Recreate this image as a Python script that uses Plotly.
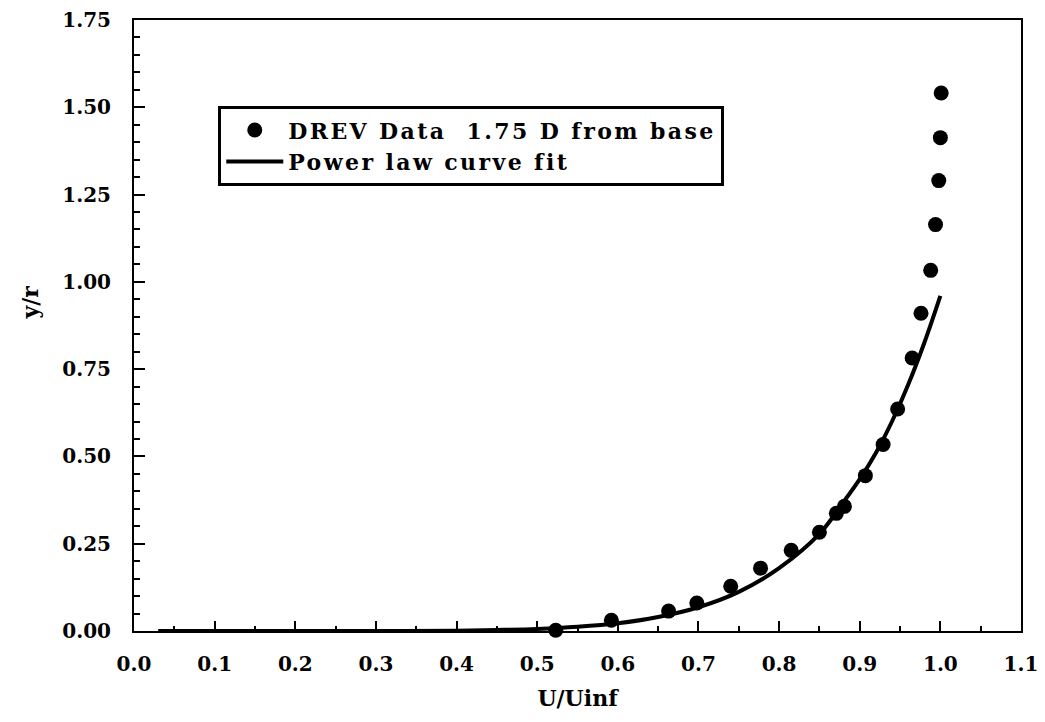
import plotly.graph_objects as go

# DREV data points
u_data = [0.523, 0.592, 0.663, 0.698, 0.740, 0.777, 0.815, 0.850, 0.871, 0.881,
          0.907, 0.929, 0.947, 0.965, 0.976, 0.988, 0.994, 0.998, 1.000, 1.001]
y_data = [0.002, 0.031, 0.057, 0.080, 0.128, 0.180, 0.231, 0.283, 0.337, 0.357,
          0.445, 0.534, 0.636, 0.782, 0.910, 1.033, 1.164, 1.290, 1.413, 1.541]

# Power law curve fit
u_fit = [0.03, 0.10, 0.20, 0.30, 0.40, 0.45, 0.50, 0.55, 0.60, 0.65, 0.70,
         0.75, 0.80, 0.85, 0.88, 0.90, 0.92, 0.94, 0.96, 0.98, 1.00]
y_fit = [0.000, 0.000, 0.000, 0.000, 0.001, 0.003, 0.006, 0.012, 0.022, 0.040, 0.068,
         0.112, 0.180, 0.278, 0.370, 0.435, 0.510, 0.600, 0.705, 0.825, 0.960]

x_ticks = [0.0, 0.1, 0.2, 0.3, 0.4, 0.5, 0.6, 0.7, 0.8, 0.9, 1.0, 1.1]
y_ticks = [0.0, 0.25, 0.5, 0.75, 1.0, 1.25, 1.5, 1.75]

FONT = "DejaVu Serif"
fnt = dict(family=FONT, size=20, color="black", weight="bold")
big = dict(family=FONT, size=22, color="black", weight="bold")
leg = dict(family=FONT, size=22, color="black", weight="bold")

SP = '<span style="letter-spacing:2.4px">{}</span>'

fig = go.Figure()
fig.add_trace(go.Scatter(
    x=u_data, y=y_data, mode="markers",
    name=SP.format("DREV Data\u00a0 1.75 D from base"),
    marker=dict(color="black", size=15),
    cliponaxis=False,
))
fig.add_trace(go.Scatter(
    x=u_fit, y=y_fit, mode="lines",
    name=SP.format("Power law curve fit"),
    line=dict(color="black", width=4, shape="spline"),
    cliponaxis=False,
))

fig.update_layout(
    width=1037, height=714,
    paper_bgcolor="white", plot_bgcolor="white",
    margin=dict(l=126, r=24, t=12, b=91),
    font=fnt,
    showlegend=True,
    legend=dict(
        x=0.095, y=0.859, xanchor="left", yanchor="top",
        bordercolor="black", borderwidth=3, bgcolor="white",
        font=leg,
        tracegroupgap=0, itemwidth=57,
    ),
    xaxis=dict(
        range=[0, 1.1], tickvals=x_ticks, tickformat=".1f",
        ticks="inside", ticklen=10, tickwidth=2, tickcolor="black",
        minor=dict(dtick=0.05, ticks="inside", ticklen=5, tickwidth=2, tickcolor="black"),
        showline=True, linecolor="black", linewidth=2, mirror=True,
        showgrid=False, zeroline=False, automargin=False,
        tickfont=fnt, ticklabelstandoff=14,
        title=dict(text="U/Uinf", font=big, standoff=16),
    ),
    yaxis=dict(
        range=[0, 1.75], tickvals=y_ticks, tickformat=".2f",
        ticks="inside", ticklen=11, tickwidth=2, tickcolor="black",
        minor=dict(dtick=0.05, ticks="inside", ticklen=6, tickwidth=2, tickcolor="black"),
        showline=True, linecolor="black", linewidth=2, mirror=True,
        showgrid=False, zeroline=False, automargin=False,
        tickfont=fnt, ticklabelstandoff=17,
    ),
    annotations=[dict(
        text="y/r", textangle=-90, xref="paper", yref="paper",
        x=-0.117, y=0.538, xanchor="center", yanchor="middle",
        showarrow=False, font=big,
    )],
)

fig.write_html("out.html")
